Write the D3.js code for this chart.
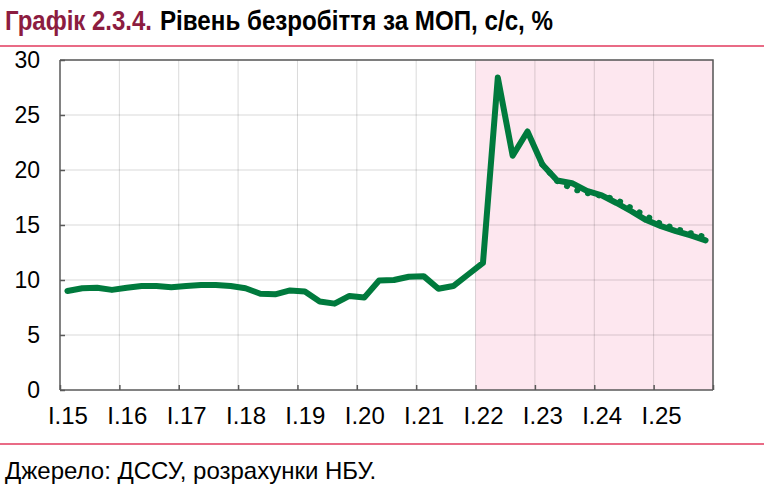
<!DOCTYPE html>
<html>
<head>
<meta charset="utf-8">
<script src="https://cdn.jsdelivr.net/npm/d3@7"></script>
<style>
  body { margin: 0; background: #fff; }
  svg { display: block; }
  .tick text { font-family: "Liberation Sans", Arial, sans-serif; fill: #000; }
  .title { font-family: "Liberation Sans Narrow", "Arial Narrow", "Liberation Sans", Arial, sans-serif; font-weight: bold; font-size: 27px; }
</style>
</head>
<body>
<div id="chart"></div>
<script>
// years shown on the axis, each split in 4 quarters
var years = [2015, 2016, 2017, 2018, 2019, 2020, 2021, 2022, 2023, 2024, 2025];
var yearLabels = ["I.15", "I.16", "I.17", "I.18", "I.19", "I.20", "I.21", "I.22", "I.23", "I.24", "I.25"];

// unemployment, s.a., % (history + current forecast), I.15 .. IV.25
var current = [
  9.0, 9.25, 9.3, 9.1,
  9.3, 9.45, 9.45, 9.35,
  9.45, 9.55, 9.55, 9.45,
  9.25, 8.75, 8.7, 9.05,
  8.95, 8.05, 7.85, 8.55,
  8.4, 9.95, 10.0, 10.3,
  10.35, 9.2, 9.45, 10.5,
  11.55, 28.4, 21.3, 23.5,
  20.5, 19.05, 18.8, 18.1,
  17.7, 17.0, 16.25, 15.45,
  14.9, 14.45, 14.05, 13.6
];

// previous forecast (dotted), from I.23
var previousStart = 32;
var previous = [20.5, 19.0, 18.3, 17.9, 17.65, 17.3, 16.55, 15.8, 15.1, 14.65, 14.25, 13.9];

var yTicks = [0, 5, 10, 15, 20, 25, 30];
var forecastFrom = 28; // shaded from I.22

var width = 764,
    height = 493,
    margins = { top: 60, right: 51, bottom: 103, left: 60 };

var green = '#007a3d';

var svg = d3.select('#chart').append('svg')
  .attr('width', width)
  .attr('height', height);

var nQ = years.length * 4;

var x = d3.scaleLinear()
  .domain([0, nQ])
  .range([margins.left, width - margins.right]);

var y = d3.scaleLinear()
  .domain([0, 30])
  .range([height - margins.bottom, margins.top]);

// title (narrow bold in the original, squeezed to its width)
svg.append('text')
  .attr('class', 'title')
  .attr('x', 5)
  .attr('y', 30)
  .attr('textLength', 147)
  .attr('lengthAdjust', 'spacingAndGlyphs')
  .attr('fill', '#8c1c40')
  .text('Графік 2.3.4.');

svg.append('text')
  .attr('class', 'title')
  .attr('x', 160)
  .attr('y', 30)
  .attr('textLength', 393)
  .attr('lengthAdjust', 'spacingAndGlyphs')
  .attr('fill', '#000')
  .text('Рівень безробіття за МОП, с/с, %');

svg.append('line')
  .attr('x1', 0).attr('x2', width)
  .attr('y1', 46).attr('y2', 46)
  .attr('stroke', '#e23a5e').attr('stroke-width', 1.5);

// shaded forecast area
svg.append('rect')
  .attr('x', x(forecastFrom))
  .attr('y', y(30))
  .attr('width', x(nQ) - x(forecastFrom))
  .attr('height', y(0) - y(30))
  .attr('fill', '#fde7ef');

// grid
svg.append('g')
  .selectAll('line')
  .data(yTicks.slice(1))
  .enter().append('line')
  .attr('x1', x(0)).attr('x2', x(nQ))
  .attr('y1', function(d) { return y(d); })
  .attr('y2', function(d) { return y(d); })
  .attr('stroke', 'rgba(0,0,0,0.15)');

svg.append('g')
  .selectAll('line')
  .data(d3.range(1, years.length + 1))
  .enter().append('line')
  .attr('x1', function(d) { return x(d * 4); })
  .attr('x2', function(d) { return x(d * 4); })
  .attr('y1', y(0)).attr('y2', y(30))
  .attr('stroke', 'rgba(0,0,0,0.15)');

// frame top/right
svg.append('path')
  .attr('d', 'M' + x(0) + ',' + y(30) + 'H' + x(nQ) + 'V' + y(0))
  .attr('fill', 'none')
  .attr('stroke', '#595959')
  .attr('stroke-width', 1.5);

// axes
var yAxis = d3.axisLeft(y)
  .tickValues(yTicks)
  .tickSize(-5)
  .tickPadding(20);

svg.append('g')
  .attr('transform', 'translate(' + margins.left + ',0)')
  .call(yAxis)
  .call(function(g) {
    g.selectAll('.domain, .tick line').attr('stroke', '#595959').attr('stroke-width', 1.5);
    g.select('.domain').attr('d', 'M0,' + y(0) + 'V' + y(30));
    g.selectAll('.tick text').style('font-size', '23px');
  });

var xTickAxis = d3.axisBottom(x)
  .tickValues(d3.range(0, nQ + 1, 4))
  .tickSize(-5)
  .tickFormat('');

svg.append('g')
  .attr('transform', 'translate(0,' + (height - margins.bottom) + ')')
  .call(xTickAxis)
  .call(function(g) {
    g.selectAll('.domain, .tick line').attr('stroke', '#595959').attr('stroke-width', 1.5);
    g.select('.domain').attr('d', 'M' + x(0) + ',0H' + x(nQ));
  });

var xLabelAxis = d3.axisBottom(x)
  .tickValues(years.map(function(d, i) { return i * 4 + 0.5; }))
  .tickSize(0)
  .tickPadding(17)
  .tickFormat(function(d, i) { return yearLabels[i]; });

svg.append('g')
  .attr('transform', 'translate(0,' + (height - margins.bottom) + ')')
  .call(xLabelAxis)
  .call(function(g) {
    g.select('.domain').remove();
    g.selectAll('.tick text').style('font-size', '24px');
  });

// lines
var line = d3.line()
  .defined(function(d) { return d != null; })
  .x(function(d, i) { return x(i + 0.5); })
  .y(function(d) { return y(d); });

var prevFull = current.map(function(d, i) {
  var k = i - previousStart;
  return k >= 0 && k < previous.length ? previous[k] : null;
});

svg.append('path')
  .attr('d', line(prevFull))
  .attr('fill', 'none')
  .attr('stroke', green)
  .attr('stroke-width', 6)
  .attr('stroke-linecap', 'round')
  .attr('stroke-dasharray', '0.1,11');

svg.append('path')
  .attr('d', line(current))
  .attr('fill', 'none')
  .attr('stroke', green)
  .attr('stroke-width', 6)
  .attr('stroke-linejoin', 'round')
  .attr('stroke-linecap', 'round');

// source
svg.append('line')
  .attr('x1', 0).attr('x2', width)
  .attr('y1', 444).attr('y2', 444)
  .attr('stroke', '#e23a5e').attr('stroke-width', 1.5);

svg.append('text')
  .attr('x', 5)
  .attr('y', 479)
  .style('font-family', '"Liberation Sans", Arial, sans-serif')
  .style('font-size', '24px')
  .text('Джерело: ДССУ, розрахунки НБУ.');
</script>
</body>
</html>
